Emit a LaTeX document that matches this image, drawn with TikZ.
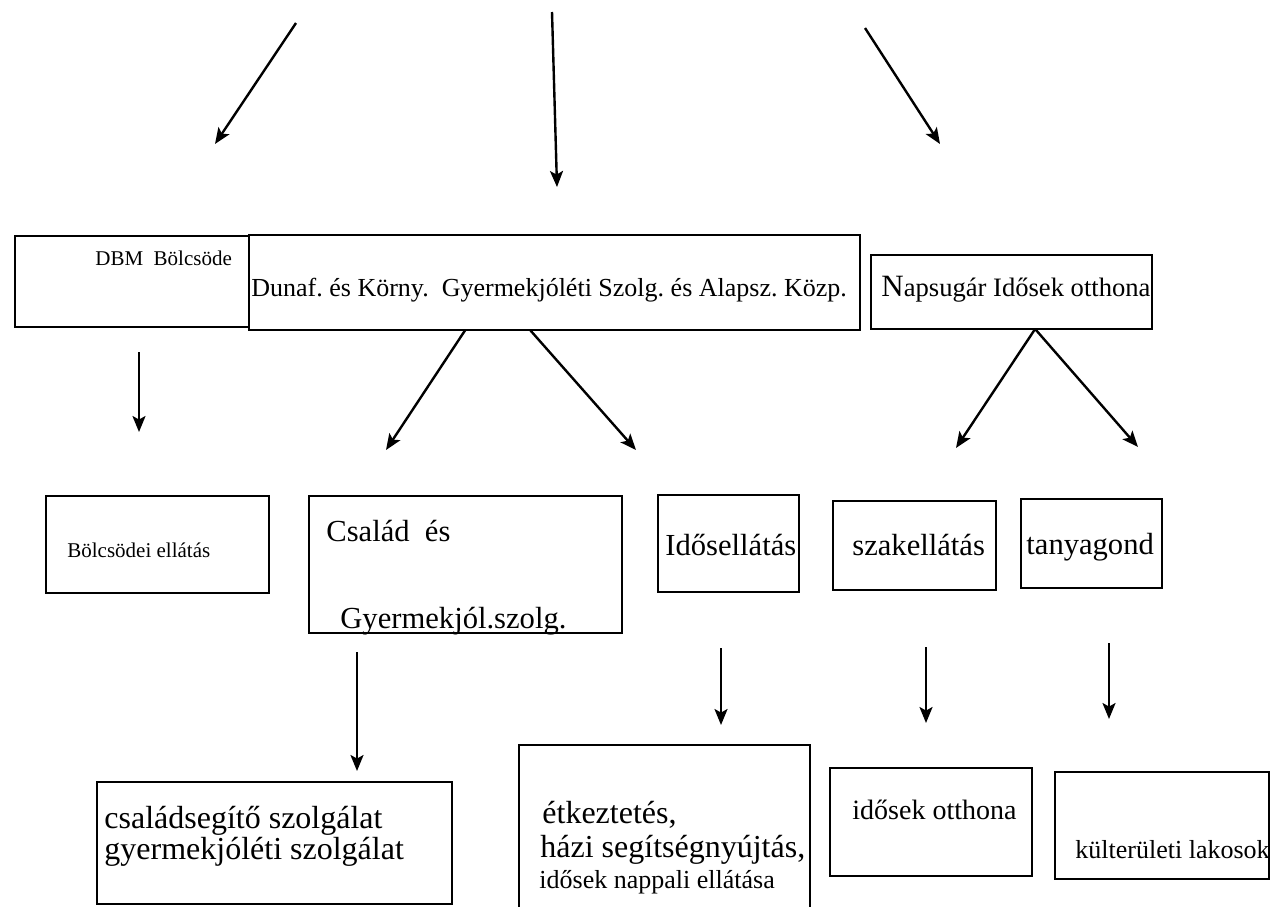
\documentclass[tikz,border=0pt]{standalone}
\usepackage{fontspec}
\setmainfont{Liberation Serif}
\usetikzlibrary{arrows.meta, fit, calc}

\begin{document}
\frenchspacing
\begin{tikzpicture}[x=0.5pt, y=-0.5pt]

%\path (0,0) grid (1272,906);
\useasboundingbox (0,0) rectangle (1272,906);

% styles
\pgfkeys{/arr/.style={draw, line width=1.2pt, -{Stealth[length=8pt, width=6.5pt, inset=1.8pt]}}} % arrows
\pgfkeys{/unit/.style={draw, line width=1.2pt, rectangle, inner sep=0, outer sep=0}} % boxes
\pgfkeys{/txt/.style={inner sep=0, anchor=base west}} % texts
\pgfkeys{/small/.style={/txt, node font=\fontsize{10.5}{12}\selectfont}}
\pgfkeys{/mid/.style={/txt, node font=\fontsize{13}{15}\selectfont}}
\pgfkeys{/big/.style={/txt, node font=\fontsize{15.3}{18}\selectfont}}
\pgfkeys{/large/.style={/txt, node font=\fontsize{16}{18}\selectfont}}

% first row
\node[/unit, fit={(15,236) (249,327)}] (dbm) {};
\node[/unit, fit={(249,235) (860,330)}] (dunaf) {};
\node[/unit, fit={(871,255) (1152,329)}] (napsugar) {};
\node[/small] (dbm-t) at (95,265) {DBM\ \ Bölcsöde};
\node[/mid] (dunaf-t) at (251,296) {Dunaf. és Körny.\ \ Gyermekjóléti Szolg. és Alapsz. Közp.};
\node[/mid, node font=\fontsize{13.3}{15}\selectfont] (napsugar-t) at (881,296) {{\fontsize{15.5}{15}\selectfont N}apsugár Idősek otthona};

% second row
\node[/unit, fit={(46,496) (269,593)}] (bolcs) {};
\node[/unit, fit={(309,496) (622,633)}] (csalad) {};
\node[/unit, fit={(658,495) (799,592)}] (idos) {};
\node[/unit, fit={(833,501) (996,590)}] (szak) {};
\node[/unit, fit={(1021,499) (1162,588)}] (tanya) {};
\node[/small] (bolcs-t) at (67,557) {Bölcsödei ellátás};
\node[/big] (csalad-t1) at (326,541) {Család\ \ és};
\node[/big] (csalad-t2) at (340,628) {Gyermekjól.szolg.};
\node[/big] (idos-t) at (665,555) {Idősellátás};
\node[/big] (szak-t) at (852,555) {szakellátás};
\node[/big] (tanya-t) at (1026,554) {tanyagond};

% third row
\node[/unit, fit={(97,782) (452,904)}] (segito) {};
\node[/unit, fit={(519,745) (810,912)}] (etkez) {};
\node[/unit, fit={(830,768) (1032,876)}] (otthon) {};
\node[/unit, fit={(1055,772) (1269,879)}] (kulter) {};
\node[/large] (segito-t1) at (104,828) {családsegítő szolgálat};
\node[/large] (segito-t2) at (104,859) {gyermekjóléti szolgálat};
\node[/large] (etkez-t1) at (542,823) {étkeztetés,};
\node[/large] (etkez-t2) at (540,857) {házi segítségnyújtás,};
\node[/mid] (etkez-t3) at (539,888) {idősek nappali ellátása};
\node[/txt, node font=\fontsize{14}{16}\selectfont] (otthon-t) at (852,819) {idősek otthona};
\node[/mid] (kulter-t) at (1075,858) {külterületi lakosok};

% free ends of the arrows
\foreach \n/\x/\y in {
  a1/296/23, b1/215/144, % top left
  a2/552/12, b2/557/187, % top middle
  a3/865/28, b3/940/144, % top right
  a4/139/352, b4/139/432, % under DBM
  b5/386/450, b6/636/450, % from Dunaf.
  b7/956/448, b8/1138/447, % from Napsugar
  a9/357/652, b9/357/771, % Csalad
  a10/721/648, b10/721/725, % Idosellatas
  a11/926/647, b11/926/723, % szakellatas
  a12/1109/643, b12/1109/719} % tanyagond
  {\coordinate (\n) at (\x,\y);}

\foreach \j in {1,2,3,4,9,10,11,12} {
\draw[/arr] (a\j) -- (b\j);
}
\draw[/arr] ($(dunaf.south west)!0.354!(dunaf.south east)$) -- (b5);
\draw[/arr] ($(dunaf.south west)!0.46!(dunaf.south east)$) -- (b6);
\draw[/arr] ($(napsugar.south west)!0.584!(napsugar.south east)$) -- (b7);
\draw[/arr] ($(napsugar.south west)!0.584!(napsugar.south east)$) -- (b8);

\end{tikzpicture}
\end{document}
